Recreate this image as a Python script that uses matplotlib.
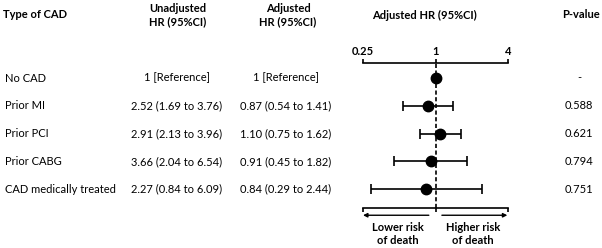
import matplotlib.pyplot as plt
import matplotlib.transforms as mtransforms

plt.rcParams['font.family'] = ['Lato', 'DejaVu Sans']

# data
cad_types = ['No CAD', 'Prior MI', 'Prior PCI', 'Prior CABG', 'CAD medically treated']
unadj_text = ['1 [Reference]', '2.52 (1.69 to 3.76)', '2.91 (2.13 to 3.96)',
              '3.66 (2.04 to 6.54)', '2.27 (0.84 to 6.09)']
adj_text = ['1 [Reference]', '0.87 (0.54 to 1.41)', '1.10 (0.75 to 1.62)',
            '0.91 (0.45 to 1.82)', '0.84 (0.29 to 2.44)']
adj_hr = [1.0, 0.87, 1.10, 0.91, 0.84]
adj_lo = [None, 0.54, 0.75, 0.45, 0.29]
adj_hi = [None, 1.41, 1.62, 1.82, 2.44]
p_values = ['-', '0.588', '0.621', '0.794', '0.751']
x_ticks = [0.25, 1, 4]
x_ticklabels = ['0.25', '1', '4']

W, H = 602, 248
font_size = 8
line_color = '#000000'

fig = plt.figure(figsize=(W / 100, H / 100), dpi=100)
# forest axes (pixel box 363..508 x, 63..208 y)
ax = fig.add_axes([363 / W, 1 - 208 / H, (508 - 363) / W, (208 - 63) / H])
ax.set_xscale('log', base=2)
ax.set_xlim(0.25, 4)
ax.set_ylim(4.68, -0.54)

for i in range(len(cad_types)):
    if adj_lo[i] is not None:
        ax.errorbar(adj_hr[i], i, xerr=[[adj_hr[i] - adj_lo[i]], [adj_hi[i] - adj_hr[i]]],
                    fmt='none', ecolor=line_color, elinewidth=1.2, capsize=3.5, capthick=1.2)
ax.plot(adj_hr, range(len(cad_types)), 'o', color=line_color, markersize=7.5, zorder=3)
ax.axvline(1, color=line_color, linestyle='--', linewidth=1.2, dashes=(2.5, 1.5), zorder=1)

ax.xaxis.set_ticks_position('top')
ax.set_xticks(x_ticks)
ax.set_xticklabels(x_ticklabels, fontsize=font_size, fontweight='bold')
ax.xaxis.set_minor_locator(plt.NullLocator())
ax.tick_params(axis='x', which='major', top=True, bottom=True, labelbottom=False,
               direction='out', length=3, width=1.2, pad=1)
ax.set_yticks([])
for s in ['left', 'right']:
    ax.spines[s].set_visible(False)
for s in ['top', 'bottom']:
    ax.spines[s].set_linewidth(1.2)

# arrows below the axis
arrow_kw = dict(arrowstyle='-|>', color=line_color, lw=1.0, mutation_scale=6,
                shrinkA=0, shrinkB=0)
ax.annotate('', xy=(0.25, -0.05), xytext=(0.88, -0.05),
            xycoords=('data', 'axes fraction'), arrowprops=arrow_kw, annotation_clip=False)
ax.annotate('', xy=(3.95, -0.05), xytext=(1.13, -0.05),
            xycoords=('data', 'axes fraction'), arrowprops=arrow_kw, annotation_clip=False)
ax.text(0.49, -0.18, 'Lower risk\nof death', transform=ax.get_xaxis_transform(),
        ha='center', va='center', fontsize=font_size, fontweight='bold', linespacing=1.15)
ax.text(2.05, -0.18, 'Higher risk\nof death', transform=ax.get_xaxis_transform(),
        ha='center', va='center', fontsize=font_size, fontweight='bold', linespacing=1.15)

# table columns
row_tr = mtransforms.blended_transform_factory(fig.transFigure, ax.transData)
for i in range(len(cad_types)):
    fig.text(5 / W, i, cad_types[i], transform=row_tr, ha='left', va='center', fontsize=font_size)
    fig.text(177 / W, i, unadj_text[i], transform=row_tr, ha='center', va='center', fontsize=font_size)
    fig.text(286 / W, i, adj_text[i], transform=row_tr, ha='center', va='center', fontsize=font_size)
    fig.text(579 / W, i, p_values[i], transform=row_tr, ha='center', va='center', fontsize=font_size)

# headers
hy = 1 - 15 / H
fig.text(3 / W, hy, 'Type of CAD', ha='left', va='center', fontsize=font_size, fontweight='bold')
fig.text(178 / W, hy, 'Unadjusted\nHR (95%CI)', ha='center', va='center',
         fontsize=font_size, fontweight='bold', linespacing=1.3)
fig.text(288 / W, hy, 'Adjusted\nHR (95%CI)', ha='center', va='center',
         fontsize=font_size, fontweight='bold', linespacing=1.3)
fig.text(424 / W, hy, 'Adjusted HR (95%CI)', ha='center', va='center',
         fontsize=font_size, fontweight='bold')
fig.text(581 / W, hy, 'P-value', ha='center', va='center', fontsize=font_size, fontweight='bold')

plt.savefig('out.png', dpi=100)
plt.close('all')
